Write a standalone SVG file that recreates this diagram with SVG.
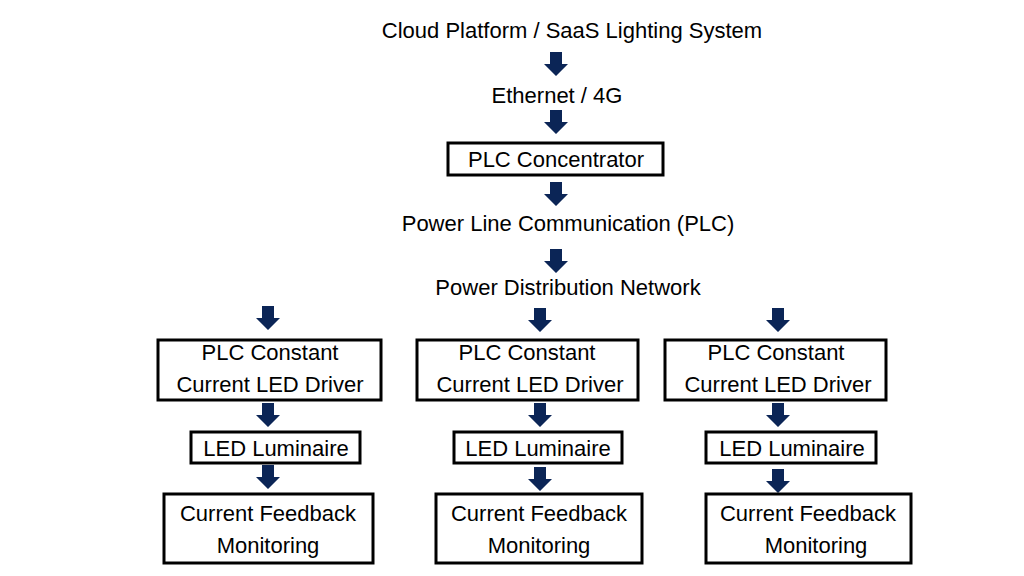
<svg xmlns="http://www.w3.org/2000/svg" width="1024" height="576" viewBox="0 0 1024 576">
<defs>
<style>
text{font-family:"Liberation Sans",Arial,sans-serif;font-size:22px;fill:#000;text-anchor:middle}
.b{fill:#fff;stroke:#000;stroke-width:3}
.a{fill:#0b2556}
</style>
<path id="ar" d="M-6,0 H6 V12 H12 L0,24 L-12,12 H-6 Z"/>
</defs>
<rect width="1024" height="576" fill="#fff"/>
<g id="connectors" class="a">
<use href="#ar" x="556" y="52"/>
<use href="#ar" x="556" y="110"/>
<use href="#ar" x="556" y="182"/>
<use href="#ar" x="556" y="249"/>
<use href="#ar" x="268" y="306"/>
<use href="#ar" x="540" y="308"/>
<use href="#ar" x="778" y="308"/>
<use href="#ar" x="268" y="403"/>
<use href="#ar" x="540" y="403"/>
<use href="#ar" x="778" y="403"/>
<use href="#ar" x="268" y="465"/>
<use href="#ar" x="540" y="467"/>
<use href="#ar" x="778" y="469"/>
</g>
<g id="cloud"><text x="572" y="38">Cloud Platform / SaaS Lighting System</text></g>
<g id="ethernet"><text x="557" y="103">Ethernet / 4G</text></g>
<g id="concentrator"><rect class="b" x="448" y="143" width="215" height="32"/><text x="556" y="167">PLC Concentrator</text></g>
<g id="plc"><text x="568" y="231">Power Line Communication (PLC)</text></g>
<g id="pdn"><text x="568" y="295">Power Distribution Network</text></g>
<g id="driver1"><rect class="b" x="158" y="340" width="223" height="60"/><text x="270" y="360">PLC Constant</text><text x="270" y="392">Current LED Driver</text></g>
<g id="driver2"><rect class="b" x="417" y="340" width="221" height="60"/><text x="527" y="360">PLC Constant</text><text x="530" y="392">Current LED Driver</text></g>
<g id="driver3"><rect class="b" x="665" y="340" width="221" height="60"/><text x="776" y="360">PLC Constant</text><text x="778" y="392">Current LED Driver</text></g>
<g id="lum1"><rect class="b" x="191" y="432" width="169" height="31"/><text x="276" y="456">LED Luminaire</text></g>
<g id="lum2"><rect class="b" x="454" y="432" width="168" height="31"/><text x="538" y="456">LED Luminaire</text></g>
<g id="lum3"><rect class="b" x="706" y="432" width="170" height="31"/><text x="792" y="456">LED Luminaire</text></g>
<g id="fb1"><rect class="b" x="164" y="494" width="209" height="69"/><text x="268" y="521">Current Feedback</text><text x="268" y="553">Monitoring</text></g>
<g id="fb2"><rect class="b" x="436" y="494" width="206" height="69"/><text x="539" y="521">Current Feedback</text><text x="539" y="553">Monitoring</text></g>
<g id="fb3"><rect class="b" x="706" y="494" width="205" height="69"/><text x="808" y="521">Current Feedback</text><text x="816" y="553">Monitoring</text></g>
</svg>
